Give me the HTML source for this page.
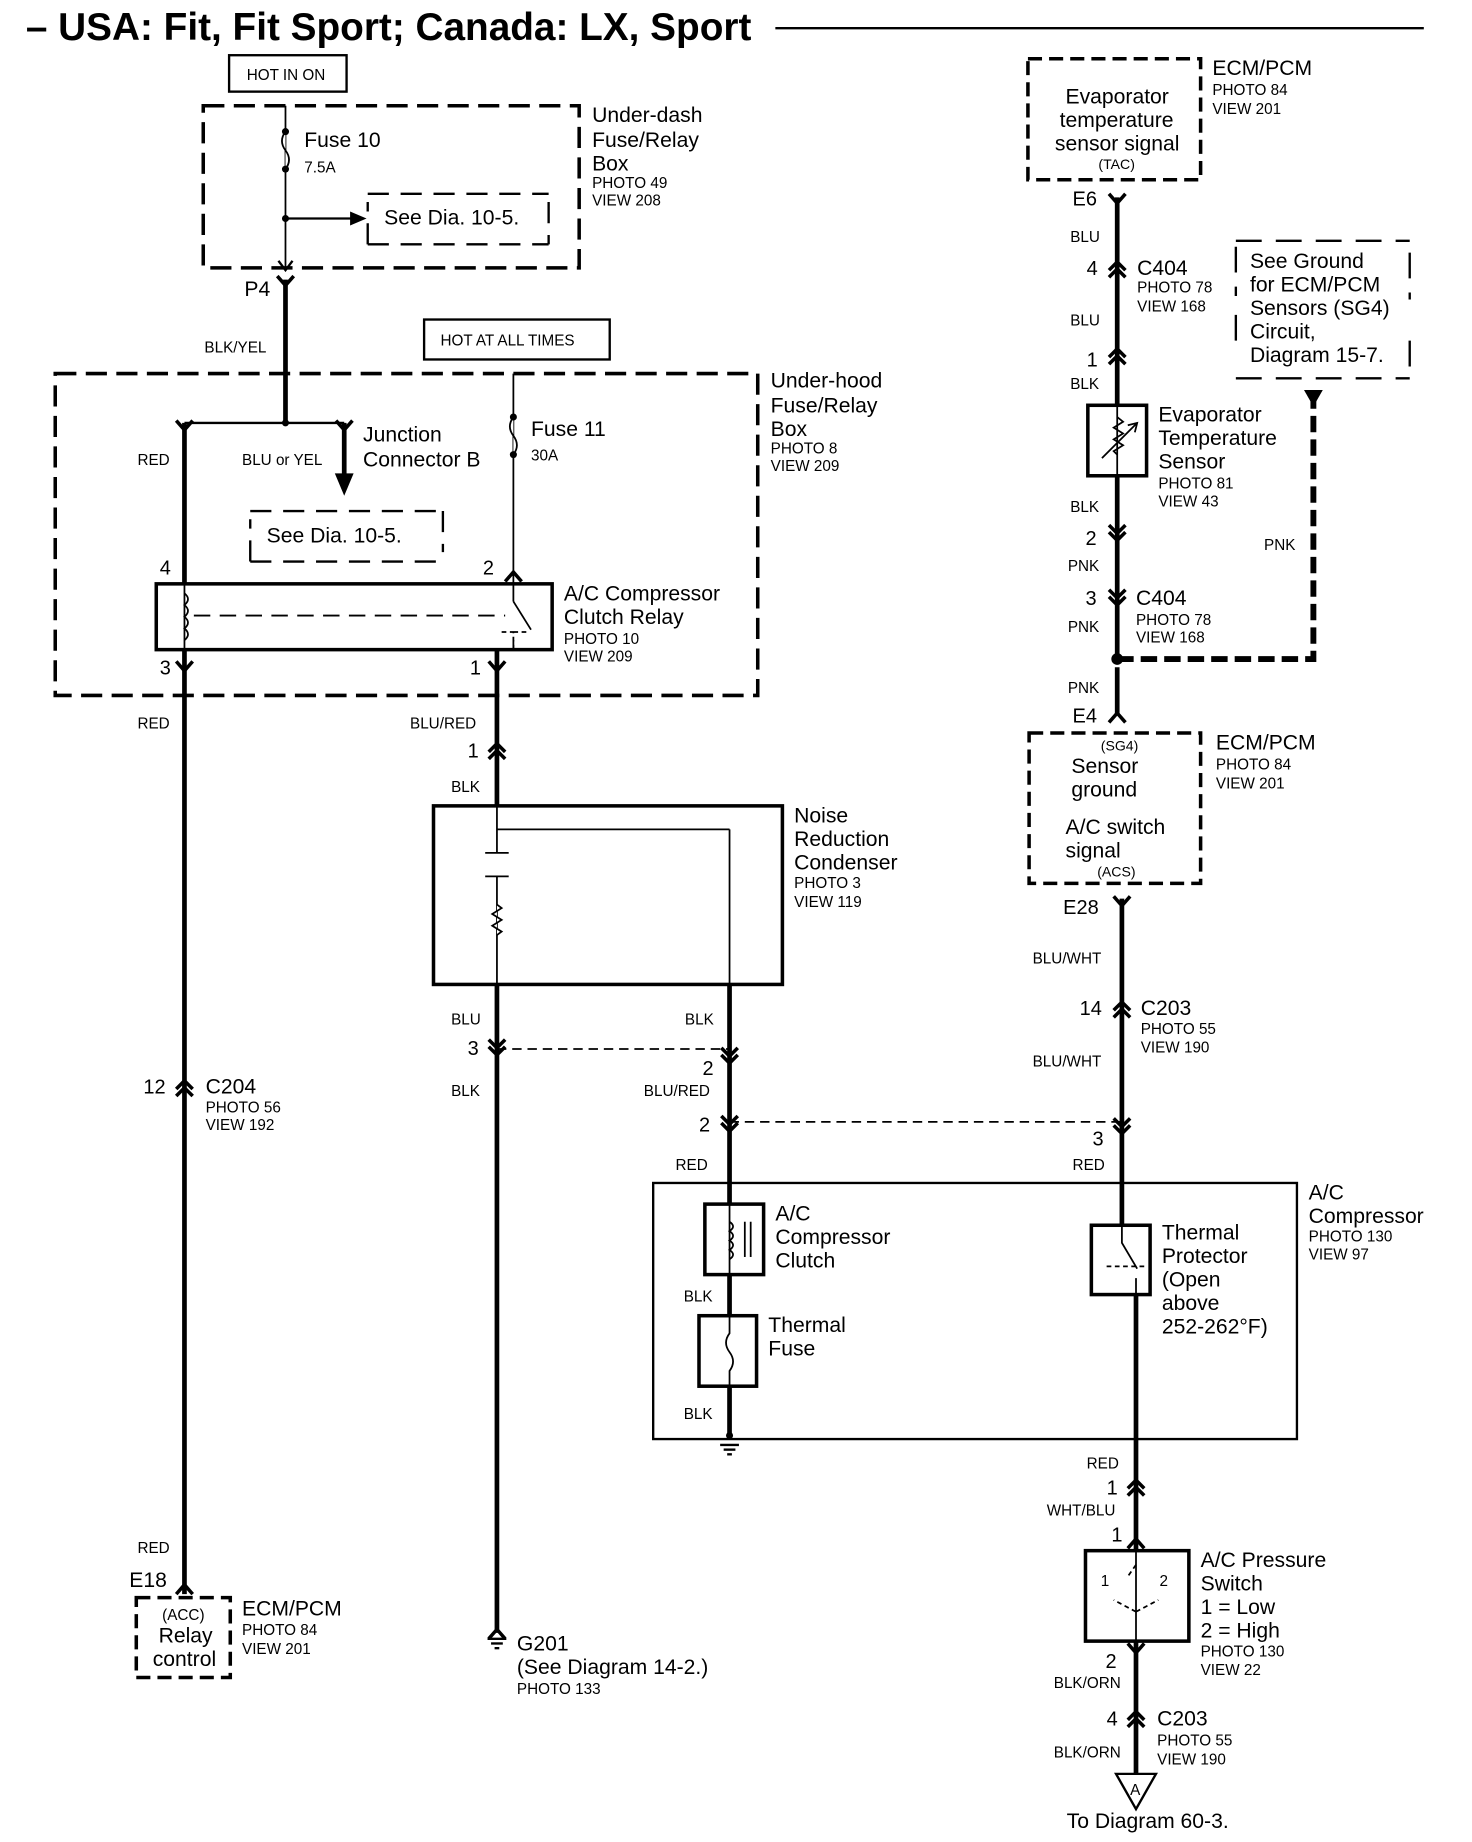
<!DOCTYPE html>
<html><head><meta charset="utf-8"><style>
html,body{margin:0;padding:0;background:#fff}
svg{display:block}
text{font-family:"Liberation Sans",sans-serif;fill:#000}
.l{font-size:18px}.s{font-size:13px}.p{font-size:17px}
</style></head><body>
<svg width="1472" height="1842" viewBox="0 0 1253 1568" xmlns="http://www.w3.org/2000/svg">
<defs>
<g id="cu" fill="none" stroke="#000" stroke-width="3"><path d="M-7 2 L0 -5 L7 2"/><path d="M-7 8 L0 1 L7 8"/></g>
<g id="cd" fill="none" stroke="#000" stroke-width="3"><path d="M-7 -8 L0 -1 L7 -8"/><path d="M-7 -2 L0 5 L7 -2"/></g>
<g id="fu" fill="none" stroke="#000" stroke-width="3"><path d="M-7 5 L0 -3 L7 5"/></g>
<g id="fd" fill="none" stroke="#000" stroke-width="3"><path d="M-7 -5 L0 3 L7 -5"/></g>
<g id="gnd" stroke="#000" stroke-width="2"><line x1="-8" y1="0" x2="8" y2="0"/><line x1="-5" y1="4" x2="5" y2="4"/><line x1="-2" y1="8" x2="2" y2="8"/></g>
</defs>
<rect width="1253" height="1568" fill="#fff"/>
<!-- title -->
<text x="22" y="34" font-size="33" font-weight="bold">– USA: Fit, Fit Sport; Canada: LX, Sport</text>
<line x1="660" y1="24" x2="1212" y2="24" stroke="#000" stroke-width="2"/>

<g fill="none" stroke="#000">
<rect x="195" y="47" width="100" height="31" stroke-width="2"/>
<rect x="173" y="90" width="320" height="138" stroke-width="3" stroke-dasharray="18,8"/>
<line x1="243" y1="90" x2="243" y2="230" stroke-width="1.5"/>
<path d="M243 112 q-6 8 0 16 q6 8 0 16" stroke-width="1.5" fill="#fff"/>
<line x1="243" y1="186" x2="300" y2="186" stroke-width="2"/>
<path d="M237 222 L243 230 L249 222" stroke-width="2"/>
<path d="M313 208 V172 M313 165 H467 M467 172 V208 M313 208 H467" stroke-width="2" stroke-dasharray="18,10"/>
<line x1="243" y1="238" x2="243" y2="362" stroke-width="4"/>
<rect x="361" y="272" width="158" height="34" stroke-width="2"/>
<rect x="47" y="318" width="598" height="274" stroke-width="3" stroke-dasharray="18,8"/>
<line x1="157" y1="360" x2="293" y2="360" stroke-width="2"/>
<line x1="157" y1="360" x2="157" y2="497" stroke-width="4"/>
<line x1="293" y1="360" x2="293" y2="405" stroke-width="4"/>
<line x1="437" y1="318" x2="437" y2="497" stroke-width="1.5"/>
<path d="M437 355 q-6 8 0 16 q6 8 0 16" stroke-width="1.5" fill="#fff"/>
<path d="M213 478 V442 M213 435 H377 M377 435 V470 M213 478 H377" stroke-width="2" stroke-dasharray="18,10"/>
<rect x="133" y="497" width="337" height="56" stroke-width="3"/>
<line x1="157" y1="497" x2="157" y2="553" stroke-width="1.5"/>
<path d="M157 505 q6 5 0 10 q6 5 0 10 q6 5 0 10 q6 5 0 10" stroke-width="1.5"/>
<line x1="165" y1="524" x2="430" y2="524" stroke-width="1.5" stroke-dasharray="14,8"/>
<path d="M437 553 V538 H426 M437 538 H448" stroke-width="1.5" stroke-dasharray="4,3"/>
<line x1="437" y1="497" x2="437" y2="512" stroke-width="1.5"/>
<line x1="437" y1="512" x2="452" y2="536" stroke-width="1.5"/>
<line x1="437" y1="545" x2="437" y2="553" stroke-width="1.5"/>
<line x1="157" y1="553" x2="157" y2="1357" stroke-width="4"/>
<rect x="116" y="1360" width="80" height="68" stroke-width="3" stroke-dasharray="12,6"/>
<line x1="423" y1="553" x2="423" y2="686" stroke-width="4"/>
<rect x="369" y="686" width="297" height="152" stroke-width="3"/>
<line x1="423" y1="686" x2="423" y2="726" stroke-width="1.5"/>
<line x1="423" y1="706" x2="621" y2="706" stroke-width="1.5"/>
<line x1="621" y1="706" x2="621" y2="838" stroke-width="1.5"/>
<line x1="413" y1="726" x2="433" y2="726" stroke-width="1.5"/>
<line x1="413" y1="746" x2="433" y2="746" stroke-width="1.5"/>
<line x1="423" y1="746" x2="423" y2="838" stroke-width="1.5"/>
<path d="M423 770 l4 3 l-8 5 l8 5 l-8 5 l8 5 l-4 3" stroke-width="1.5" fill="#fff"/>
<line x1="423" y1="838" x2="423" y2="1390" stroke-width="4"/>
<line x1="621" y1="838" x2="621" y2="1222" stroke-width="4"/>
<line x1="423" y1="893" x2="621" y2="893" stroke-width="1.5" stroke-dasharray="8,5"/>
<line x1="621" y1="955" x2="955" y2="955" stroke-width="1.5" stroke-dasharray="8,5"/>
<rect x="875" y="50" width="147" height="103" stroke-width="3" stroke-dasharray="12,6"/>
<line x1="951" y1="168" x2="951" y2="561" stroke-width="4"/>
<rect x="926" y="345" width="50" height="60" stroke-width="3" fill="#fff"/>
<line x1="951" y1="345" x2="951" y2="405" stroke-width="1.5"/>
<path d="M951 355 l5 4 l-8 5 l8 5 l-8 5 l8 5 l-8 5 l3 3" stroke-width="1.5"/>
<line x1="938" y1="390" x2="968" y2="360" stroke-width="1.5"/>
<path d="M960 362 L968 360 L966 368" stroke-width="1.5"/>
<path d="M1052 210 V252 M1052 268 V300 M1052 322 H1200 M1052 205 H1200 M1200 215 V255 M1200 290 V322" stroke-width="2" stroke-dasharray="22,12"/>
<path d="M951 561 H1118 V340" stroke-width="5" stroke-dasharray="14,6"/>
<line x1="951" y1="568" x2="951" y2="608" stroke-width="4"/>
<rect x="876" y="624" width="146" height="128" stroke-width="3" stroke-dasharray="12,6"/>
<line x1="955" y1="765" x2="955" y2="1043" stroke-width="4"/>
<rect x="556" y="1007" width="548" height="218" stroke-width="2"/>
<rect x="600" y="1025" width="50" height="60" stroke-width="3" fill="#fff"/>
<line x1="621" y1="1025" x2="621" y2="1085" stroke-width="1.5"/>
<path d="M621 1040 q6 4 0 8 q6 4 0 8 q6 4 0 8 q6 4 0 8" stroke-width="1.5"/>
<line x1="634" y1="1040" x2="634" y2="1070" stroke-width="1.5"/>
<line x1="639" y1="1040" x2="639" y2="1070" stroke-width="1.5"/>
<rect x="595" y="1120" width="49" height="60" stroke-width="3" fill="#fff"/>
<path d="M621 1120 V1135 q-6 8 0 16 q6 8 0 16 V1180" stroke-width="1.5"/>
<rect x="929" y="1043" width="50" height="59" stroke-width="3" fill="#fff"/>
<path d="M955 1043 V1058 L968 1080 M967 1102 V1088" stroke-width="1.5"/>
<line x1="942" y1="1078" x2="975" y2="1078" stroke-width="1.5" stroke-dasharray="4,3"/>
<line x1="967" y1="1102" x2="967" y2="1320" stroke-width="4"/>
<rect x="924" y="1320" width="88" height="77" stroke-width="3"/>
<line x1="967" y1="1320" x2="967" y2="1397" stroke-width="1.5"/>
<path d="M967 1332 L960 1342 M967 1372 L948 1362 M967 1372 L986 1362" stroke-width="1.5" stroke-dasharray="4,3"/>
<line x1="967" y1="1397" x2="967" y2="1510" stroke-width="4"/>
<path d="M950 1510 L984 1510 L967 1540 Z" stroke-width="2"/>
</g>
<g fill="#000">
<circle cx="243" cy="112" r="3"/><circle cx="243" cy="144" r="3"/><circle cx="243" cy="186" r="3"/>
<path d="M298 180 L312 186 L298 192 Z"/>
<circle cx="437" cy="355" r="3"/><circle cx="437" cy="387" r="3"/><circle cx="243" cy="360" r="3"/>
<path d="M285 403 L301 403 L293 422 Z"/>
<circle cx="951" cy="561" r="5"/>
<path d="M1110 332 L1126 332 L1118 346 Z"/>
<circle cx="621" cy="1222" r="3"/>
</g>
<use href="#gnd" x="621" y="1230"/><use href="#gnd" x="423" y="1395"/>
<use href="#fd" x="243" y="240"/><use href="#fd" x="157" y="363"/><use href="#fd" x="293" y="363"/><use href="#fd" x="157" y="568"/><use href="#fd" x="423" y="568"/>
<use href="#fu" x="437" y="490"/>
<use href="#cu" x="423" y="638"/><use href="#cd" x="423" y="893"/><use href="#cd" x="621" y="900"/><use href="#cd" x="621" y="958"/>
<use href="#cu" x="157" y="925"/><use href="#fu" x="157" y="1352"/><use href="#fu" x="423" y="1390"/>
<use href="#fd" x="951" y="170"/><use href="#cu" x="951" y="228"/><use href="#cu" x="951" y="302"/>
<use href="#cd" x="951" y="455"/><use href="#cd" x="951" y="510"/><use href="#fu" x="951" y="610"/>
<use href="#fd" x="955" y="768"/><use href="#cu" x="955" y="858"/><use href="#cd" x="955" y="960"/>
<use href="#cu" x="967" y="1265"/><use href="#fu" x="967" y="1313"/><use href="#fd" x="967" y="1404"/><use href="#cu" x="967" y="1462"/>
<text x="210" y="68" class="s">HOT IN ON</text>
<text x="259" y="125" class="l">Fuse 10</text><text x="259" y="147" class="s">7.5A</text>
<text x="327" y="191" class="l">See Dia. 10-5.</text>
<text x="504" y="104" class="l">Under-dash</text><text x="504" y="125" class="l">Fuse/Relay</text><text x="504" y="145" class="l">Box</text>
<text x="504" y="160" class="s">PHOTO 49</text><text x="504" y="175" class="s">VIEW 208</text>
<text x="208" y="252" class="l">P4</text>
<text x="174" y="300" class="s">BLK/YEL</text>
<text x="375" y="294" class="s">HOT AT ALL TIMES</text>
<text x="656" y="330" class="l">Under-hood</text><text x="656" y="351" class="l">Fuse/Relay</text><text x="656" y="371" class="l">Box</text>
<text x="656" y="386" class="s">PHOTO 8</text><text x="656" y="401" class="s">VIEW 209</text>
<text x="309" y="376" class="l">Junction</text><text x="309" y="397" class="l">Connector B</text>
<text x="452" y="371" class="l">Fuse 11</text><text x="452" y="392" class="s">30A</text>
<text x="117" y="396" class="s">RED</text><text x="206" y="396" class="s">BLU or YEL</text>
<text x="227" y="462" class="l">See Dia. 10-5.</text>
<text x="136" y="489" class="p">4</text><text x="411" y="489" class="p">2</text>
<text x="480" y="511" class="l">A/C Compressor</text><text x="480" y="531" class="l">Clutch Relay</text>
<text x="480" y="548" class="s">PHOTO 10</text><text x="480" y="563" class="s">VIEW 209</text>
<text x="136" y="574" class="p">3</text><text x="400" y="574" class="p">1</text>
<text x="117" y="620" class="s">RED</text><text x="349" y="620" class="s">BLU/RED</text>
<text x="398" y="645" class="p">1</text><text x="384" y="674" class="s">BLK</text>
<text x="676" y="700" class="l">Noise</text><text x="676" y="720" class="l">Reduction</text><text x="676" y="740" class="l">Condenser</text>
<text x="676" y="756" class="s">PHOTO 3</text><text x="676" y="772" class="s">VIEW 119</text>
<text x="384" y="872" class="s">BLU</text><text x="583" y="872" class="s">BLK</text>
<text x="398" y="898" class="p">3</text><text x="598" y="915" class="p">2</text>
<text x="384" y="933" class="s">BLK</text><text x="548" y="933" class="s">BLU/RED</text>
<text x="122" y="931" class="p">12</text><text x="175" y="931" class="l">C204</text>
<text x="175" y="947" class="s">PHOTO 56</text><text x="175" y="962" class="s">VIEW 192</text>
<text x="595" y="963" class="p">2</text><text x="575" y="996" class="s">RED</text>
<text x="930" y="975" class="p">3</text><text x="913" y="996" class="s">RED</text>
<text x="117" y="1322" class="s">RED</text><text x="110" y="1351" class="l">E18</text>
<text x="138" y="1379" class="s">(ACC)</text><text x="135" y="1398" class="l">Relay</text><text x="130" y="1418" class="l">control</text>
<text x="206" y="1375" class="l">ECM/PCM</text><text x="206" y="1392" class="s">PHOTO 84</text><text x="206" y="1408" class="s">VIEW 201</text>
<text x="440" y="1405" class="l">G201</text><text x="440" y="1425" class="l">(See Diagram 14-2.)</text><text x="440" y="1442" class="s">PHOTO 133</text>
<text x="660" y="1039" class="l">A/C</text><text x="660" y="1059" class="l">Compressor</text><text x="660" y="1079" class="l">Clutch</text>
<text x="582" y="1108" class="s">BLK</text>
<text x="654" y="1134" class="l">Thermal</text><text x="654" y="1154" class="l">Fuse</text>
<text x="582" y="1208" class="s">BLK</text>
<text x="989" y="1055" class="l">Thermal</text><text x="989" y="1075" class="l">Protector</text><text x="989" y="1095" class="l">(Open</text><text x="989" y="1115" class="l">above</text><text x="989" y="1135" class="l">252-262°F)</text>
<text x="1114" y="1021" class="l">A/C</text><text x="1114" y="1041" class="l">Compressor</text>
<text x="1114" y="1057" class="s">PHOTO 130</text><text x="1114" y="1072" class="s">VIEW 97</text>
<text x="925" y="1250" class="s">RED</text><text x="942" y="1272" class="p">1</text>
<text x="891" y="1290" class="s">WHT/BLU</text><text x="946" y="1312" class="p">1</text>
<text x="937" y="1350" class="s">1</text><text x="987" y="1350" class="s">2</text>
<text x="1022" y="1334" class="l">A/C Pressure</text><text x="1022" y="1354" class="l">Switch</text><text x="1022" y="1374" class="l">1 = Low</text><text x="1022" y="1394" class="l">2 = High</text>
<text x="1022" y="1410" class="s">PHOTO 130</text><text x="1022" y="1426" class="s">VIEW 22</text>
<text x="941" y="1420" class="p">2</text><text x="897" y="1437" class="s">BLK/ORN</text>
<text x="942" y="1469" class="p">4</text><text x="985" y="1469" class="l">C203</text>
<text x="985" y="1486" class="s">PHOTO 55</text><text x="985" y="1502" class="s">VIEW 190</text>
<text x="897" y="1496" class="s">BLK/ORN</text>
<text x="962" y="1528" font-size="13">A</text>
<text x="908" y="1556" class="l">To Diagram 60-3.</text>
<text x="907" y="88" class="l">Evaporator</text><text x="902" y="108" class="l">temperature</text><text x="898" y="128" class="l">sensor signal</text><text x="935" y="144" font-size="12">(TAC)</text>
<text x="1032" y="64" class="l">ECM/PCM</text><text x="1032" y="81" class="s">PHOTO 84</text><text x="1032" y="97" class="s">VIEW 201</text>
<text x="913" y="175" class="p">E6</text><text x="911" y="206" class="s">BLU</text>
<text x="925" y="234" class="p">4</text><text x="968" y="234" class="l">C404</text>
<text x="968" y="249" class="s">PHOTO 78</text><text x="968" y="265" class="s">VIEW 168</text>
<text x="911" y="277" class="s">BLU</text><text x="925" y="312" class="p">1</text><text x="911" y="331" class="s">BLK</text>
<text x="1064" y="228" class="l">See Ground</text><text x="1064" y="248" class="l">for ECM/PCM</text><text x="1064" y="268" class="l">Sensors (SG4)</text><text x="1064" y="288" class="l">Circuit,</text><text x="1064" y="308" class="l">Diagram 15-7.</text>
<text x="986" y="359" class="l">Evaporator</text><text x="986" y="379" class="l">Temperature</text><text x="986" y="399" class="l">Sensor</text>
<text x="986" y="416" class="s">PHOTO 81</text><text x="986" y="431" class="s">VIEW 43</text>
<text x="911" y="436" class="s">BLK</text><text x="924" y="464" class="p">2</text><text x="909" y="486" class="s">PNK</text>
<text x="1076" y="468" class="s">PNK</text>
<text x="924" y="515" class="p">3</text><text x="967" y="515" class="l">C404</text>
<text x="967" y="532" class="s">PHOTO 78</text><text x="967" y="547" class="s">VIEW 168</text>
<text x="909" y="538" class="s">PNK</text><text x="909" y="590" class="s">PNK</text>
<text x="913" y="615" class="p">E4</text>
<text x="937" y="639" font-size="12">(SG4)</text><text x="912" y="658" class="l">Sensor</text><text x="912" y="678" class="l">ground</text>
<text x="907" y="710" class="l">A/C switch</text><text x="907" y="730" class="l">signal</text><text x="934" y="746" font-size="12">(ACS)</text>
<text x="1035" y="638" class="l">ECM/PCM</text><text x="1035" y="655" class="s">PHOTO 84</text><text x="1035" y="671" class="s">VIEW 201</text>
<text x="905" y="778" class="p">E28</text><text x="879" y="820" class="s">BLU/WHT</text>
<text x="919" y="864" class="p">14</text><text x="971" y="864" class="l">C203</text>
<text x="971" y="880" class="s">PHOTO 55</text><text x="971" y="896" class="s">VIEW 190</text>
<text x="879" y="908" class="s">BLU/WHT</text>
</svg>
</body></html>
